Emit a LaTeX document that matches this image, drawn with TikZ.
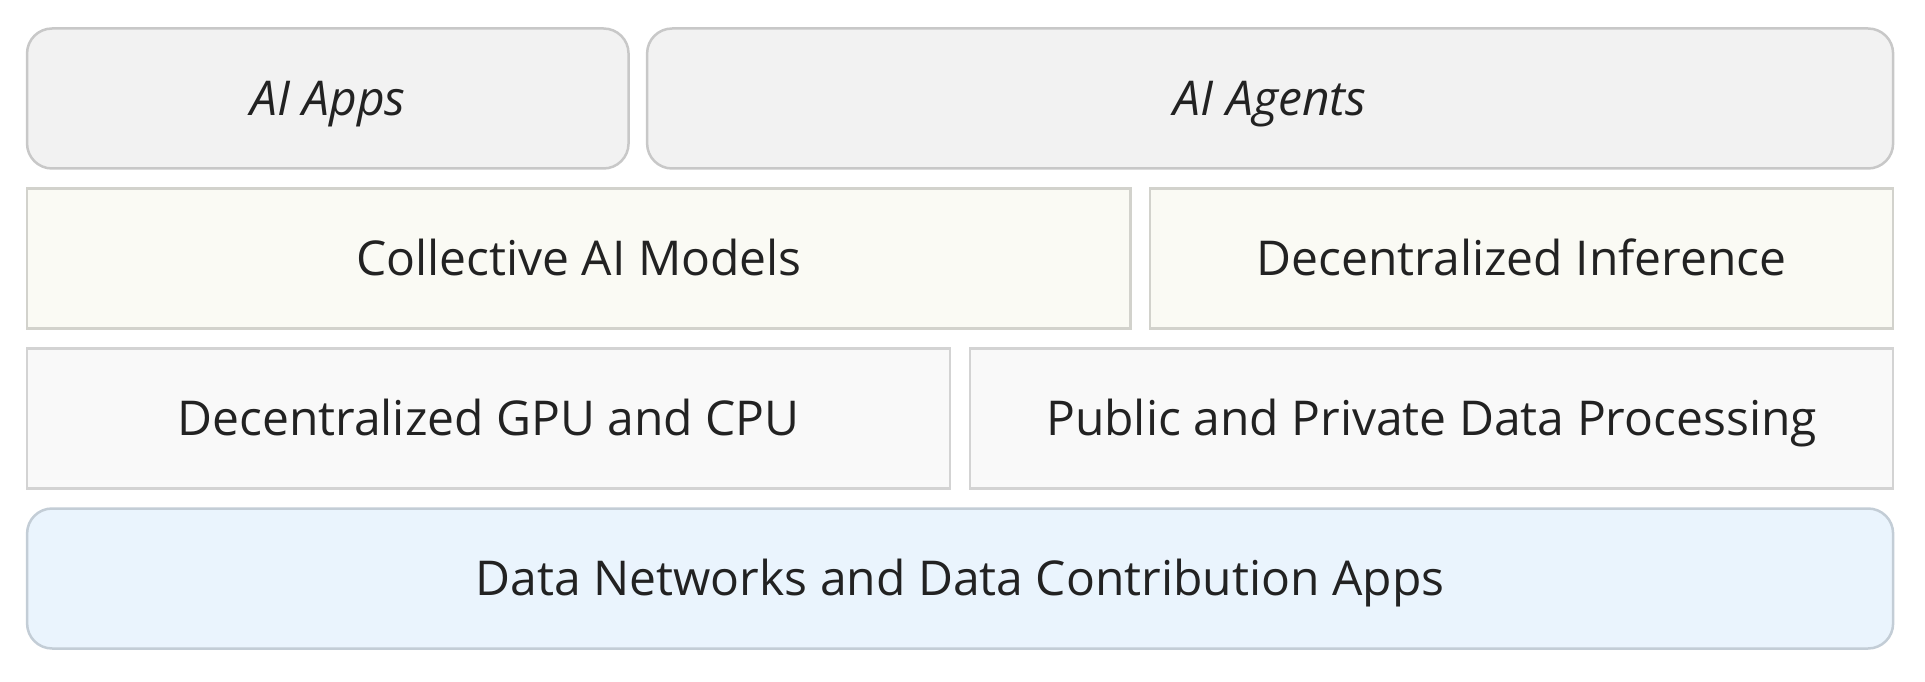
\documentclass[tikz,border=0pt]{standalone}
\usepackage{fontspec}
\setmainfont{Open Sans}
\usetikzlibrary{positioning}

\definecolor{agentfill}{HTML}{F2F2F2}
\definecolor{agentline}{HTML}{C8C8C8}
\definecolor{modelfill}{HTML}{FAFAF4}
\definecolor{modelline}{HTML}{D2D2CC}
\definecolor{computefill}{HTML}{F9F9F9}
\definecolor{computeline}{HTML}{D3D3D3}
\definecolor{datafill}{HTML}{EAF4FD}
\definecolor{dataline}{HTML}{C3CDD6}
\definecolor{labeltext}{HTML}{222222}

\begin{document}
\begin{tikzpicture}
  [
    x=1pt, y=1pt,
    layer box/.style={draw, line width=2.5pt, inner sep=0pt, minimum height=140pt,
      text=labeltext, font=\fontsize{48}{58}\selectfont,
      text height=34.2pt, text depth=0pt},
    agent box/.style={layer box, rounded corners=25pt, fill=agentfill, draw=agentline,
      font=\fontsize{48}{58}\selectfont\itshape},
    model box/.style={layer box, fill=modelfill, draw=modelline},
    compute box/.style={layer box, fill=computefill, draw=computeline},
    data box/.style={layer box, rounded corners=25pt, fill=datafill, draw=dataline},
  ]

  \useasboundingbox (0,0) rectangle (1925,681);

  % top row
  \node[agent box, minimum width=601.5pt] (apps) at (327.8,582.5) {AI Apps};
  \node[agent box, minimum width=1246pt] (agents) at (1270.1,582.5) {AI Agents};

  % models
  \node[model box, minimum width=1103.5pt] (models) at (578.9,422.5) {Collective AI Models};
  \node[model box, minimum width=743pt] (inference) at (1521.7,422.5) {Decentralized Inference};

  % compute and data processing
  \node[compute box, minimum width=923pt] (compute) at (488.6,262.5) {Decentralized GPU and CPU};
  \node[compute box, minimum width=923pt] (processing) at (1431.6,262.5) {Public and Private Data Processing};

  % base
  \node[data box, minimum width=1866pt] (networks) at (960.1,102.5) {Data Networks and Data Contribution Apps};

\end{tikzpicture}
\end{document}
